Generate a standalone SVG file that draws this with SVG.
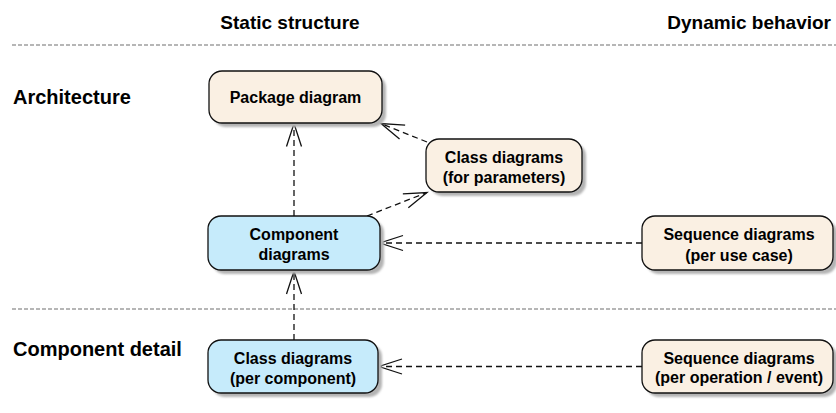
<svg xmlns="http://www.w3.org/2000/svg" width="836" height="413" viewBox="0 0 836 413">
  <style>
    text { font-family: "Liberation Sans", Arial, sans-serif; font-weight: bold; fill: #000; }
    .hdr { font-size: 19px; }
    .row { font-size: 20px; }
    .lbl { font-size: 16px; text-anchor: middle; }
    .box { stroke: #111; stroke-width: 1.3; }
    .beige { fill: #faf0e3; }
    .blue { fill: #c6ebfb; }
    .shadow { fill: #b4b4b4; filter: url(#soft); }
    .sep { stroke: #6e6e6e; stroke-width: 1.2; stroke-dasharray: 4 2; fill: none; }
    .dep { stroke: #111; stroke-width: 1.3; stroke-dasharray: 6 4; fill: none; marker-end: url(#open); }
  </style>
  <defs>
    <filter id="soft" x="-10%" y="-10%" width="120%" height="130%">
      <feGaussianBlur stdDeviation="1"/>
    </filter>
    <marker id="open" markerUnits="userSpaceOnUse" markerWidth="30" markerHeight="20" refX="0" refY="0" viewBox="-26 -10 28 20" orient="auto" overflow="visible">
      <path d="M-23,-7.5 L0,0 L-23,7.5" fill="none" stroke="#111" stroke-width="1.3" stroke-dasharray="none"/>
    </marker>
  </defs>

  <rect width="836" height="413" fill="#ffffff"/>

  <!-- column headings and row labels -->
  <text class="hdr" x="290" y="29" text-anchor="middle">Static structure</text>
  <text class="hdr" x="831" y="29" text-anchor="end">Dynamic behavior</text>
  <text class="row" x="13" y="104">Architecture</text>
  <text class="row" x="13" y="356">Component detail</text>

  <!-- swimlane separators -->
  <line class="sep" x1="12" y1="45" x2="836" y2="45"/>
  <line class="sep" x1="12" y1="309" x2="836" y2="309"/>

  <!-- dependency connectors -->
  <g id="connectors">
    <path class="dep" d="M294,216 V123.5"/>
    <path class="dep" d="M427,142 L381,123.5"/>
    <path class="dep" d="M367,216 L427,192.5"/>
    <path class="dep" d="M642,243 H380"/>
    <path class="dep" d="M294,340 V271"/>
    <path class="dep" d="M642,366.5 H379"/>
  </g>

  <g id="package-diagram">
    <rect class="shadow" x="213" y="75" width="173" height="52" rx="13"/>
    <rect class="box beige" x="209" y="71" width="173" height="52" rx="13"/>
    <text class="lbl" x="295.5" y="103">Package diagram</text>
  </g>

  <g id="class-diagrams-parameters">
    <rect class="shadow" x="430" y="143" width="156" height="53" rx="13"/>
    <rect class="box beige" x="426" y="139" width="156" height="53" rx="13"/>
    <text class="lbl" x="504" y="163">Class diagrams</text>
    <text class="lbl" x="504" y="183">(for parameters)</text>
  </g>

  <g id="component-diagrams">
    <rect class="shadow" x="212" y="220" width="172" height="54" rx="13"/>
    <rect class="box blue" x="208" y="216" width="172" height="54" rx="13"/>
    <text class="lbl" x="294" y="240">Component</text>
    <text class="lbl" x="294" y="260">diagrams</text>
  </g>

  <g id="sequence-diagrams-use-case">
    <rect class="shadow" x="646" y="220" width="191" height="54" rx="13"/>
    <rect class="box beige" x="642" y="216" width="191" height="54" rx="13"/>
    <text class="lbl" x="739" y="240">Sequence diagrams</text>
    <text class="lbl" x="739" y="261">(per use case)</text>
  </g>

  <g id="class-diagrams-component">
    <rect class="shadow" x="212" y="344" width="170" height="53" rx="13"/>
    <rect class="box blue" x="208" y="340" width="170" height="53" rx="13"/>
    <text class="lbl" x="293" y="364">Class diagrams</text>
    <text class="lbl" x="293" y="384">(per component)</text>
  </g>

  <g id="sequence-diagrams-operation">
    <rect class="shadow" x="646" y="344" width="191" height="53" rx="13"/>
    <rect class="box beige" x="642" y="340" width="191" height="53" rx="13"/>
    <text class="lbl" x="739" y="364">Sequence diagrams</text>
    <text class="lbl" x="739" y="383">(per operation / event)</text>
  </g>
</svg>
